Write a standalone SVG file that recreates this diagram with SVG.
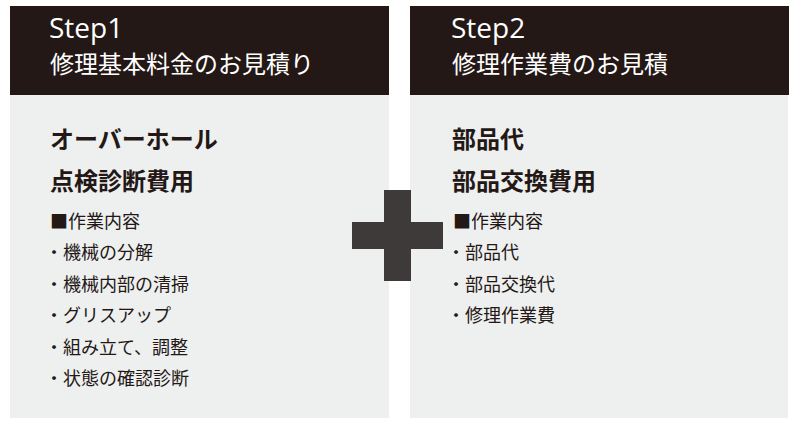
<svg xmlns="http://www.w3.org/2000/svg" width="804" height="431" viewBox="0 0 804 431">
<style>
.hdr{fill:#231815}
.body{fill:#eeefef}
.plus{fill:#3e3a39}
.step{font-family:"Open Sans","Noto Sans",sans-serif;font-size:28px;fill:#ffffff}
.sub{font-family:"Noto Sans CJK JP",sans-serif;font-size:24px;fill:#ffffff}
.big{font-family:"Noto Sans CJK JP",sans-serif;font-size:24px;font-weight:bold;fill:#231815}
.item{font-family:"Noto Sans CJK JP",sans-serif;font-size:18px;fill:#231815}
</style>
<rect width="804" height="431" fill="#ffffff"/>
<g id="step1">
<rect class="body" x="10" y="95" width="379" height="323"/>
<rect class="hdr" x="10" y="6" width="379" height="89"/>
<text class="step" x="49" y="38">Step1</text>
<text class="sub" x="50" y="73">修理基本料金のお見積り</text>
<text class="big" x="50" y="148">オーバーホール</text>
<text class="big" x="50" y="190">点検診断費用</text>
<text class="item" x="50" y="227.5">■作業内容</text>
<text class="item" x="45" y="259">・機械の分解</text>
<text class="item" x="45" y="290.5">・機械内部の清掃</text>
<text class="item" x="45" y="322">・グリスアップ</text>
<text class="item" x="45" y="353.5">・組み立て、調整</text>
<text class="item" x="45" y="385">・状態の確認診断</text>
</g>
<g id="step2">
<rect class="body" x="410" y="95" width="378" height="323"/>
<rect class="hdr" x="410" y="6" width="379" height="89"/>
<text class="step" x="451" y="38">Step2</text>
<text class="sub" x="452" y="73">修理作業費のお見積</text>
<text class="big" x="452" y="148">部品代</text>
<text class="big" x="452" y="190">部品交換費用</text>
<text class="item" x="453" y="227.5">■作業内容</text>
<text class="item" x="447" y="259">・部品代</text>
<text class="item" x="447" y="290.5">・部品交換代</text>
<text class="item" x="447" y="322">・修理作業費</text>
</g>
<g id="plus">
<rect class="plus" x="384" y="190" width="27" height="91"/>
<rect class="plus" x="352" y="222" width="91" height="27"/>
</g>
<g id="connectors"></g>
</svg>
